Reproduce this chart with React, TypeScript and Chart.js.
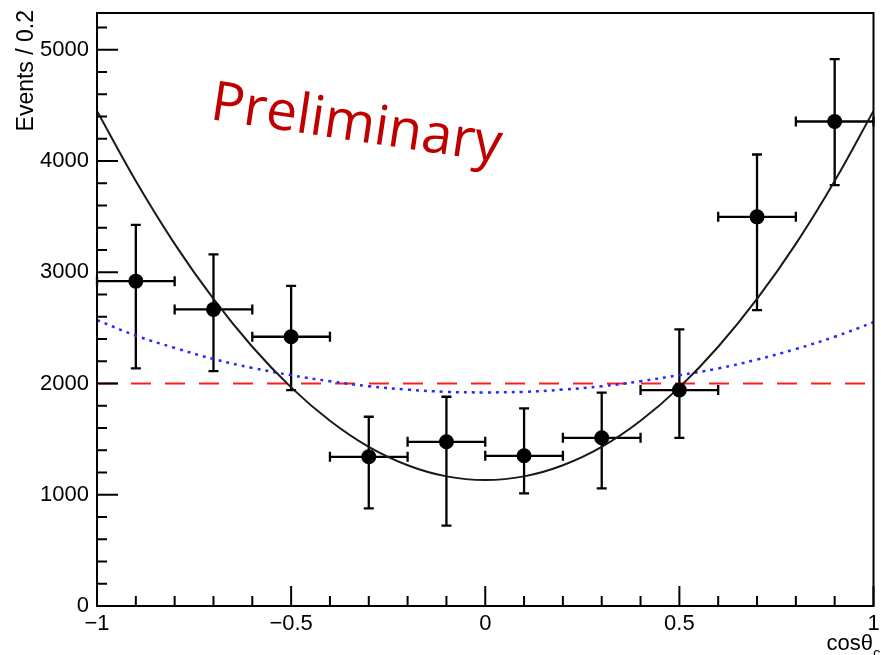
import React, { useEffect, useRef } from "react";
import { Chart, registerables } from "chart.js";

Chart.register(...registerables);

// ---- data ----
const binCenters = [-0.9, -0.7, -0.5, -0.3, -0.1, 0.1, 0.3, 0.5, 0.7, 0.9];
const binHalfWidths = [0.1, 0.1, 0.1, 0.1, 0.1, 0.1, 0.1, 0.1, 0.1, 0.1];
const events = [2920, 2666, 2420, 1341, 1476, 1350, 1512, 1941, 3498, 4355];
const eventsLow = [2136, 2111, 1941, 878, 722, 1013, 1057, 1512, 2660, 3783];
const eventsHigh = [3426, 3160, 2878, 1701, 1881, 1776, 1917, 2486, 4058, 4915];

const curveX = [-1, -0.9, -0.8, -0.7, -0.6, -0.5, -0.4, -0.3, -0.2, -0.1, 0, 0.1, 0.2, 0.3, 0.4, 0.5, 0.6, 0.7, 0.8, 0.9, 1];
const fitTotal = [4450, 3820, 3255, 2760, 2330, 1965, 1665, 1430, 1265, 1165, 1132, 1165, 1265, 1430, 1665, 1965, 2330, 2760, 3255, 3820, 4450];
const fitDotted = [2570, 2430, 2320, 2220, 2140, 2075, 2020, 1975, 1945, 1925, 1920, 1925, 1945, 1975, 2020, 2075, 2135, 2215, 2310, 2420, 2550];
const flatX = [-1, 1];
const flatY = [2000, 2000];

const xTickValues = [-1, -0.5, 0, 0.5, 1];
const yTickValues = [0, 1000, 2000, 3000, 4000, 5000];
const xRange = [-1, 1];
const yRange = [0, 5330];

const yTitle = "Events / 0.2";
const xTitle = "cosθ";
const xTitleSub = "c";
const watermark = "Preliminary";

const fmt = (v: number) => (v < 0 ? "\u2212" + Math.abs(v) : String(v));

const rootPlugin = {
  id: "rootStyle",
  beforeDatasetsDraw(chart: any) {
    const ctx = chart.ctx;
    const xs = chart.scales.x;
    const ys = chart.scales.y;
    ctx.save();
    ctx.strokeStyle = "#000";
    ctx.lineWidth = 2.3;
    const cap = 5;
    for (let i = 0; i < binCenters.length; i++) {
      const cx = xs.getPixelForValue(binCenters[i]);
      const cy = ys.getPixelForValue(events[i]);
      const xl = xs.getPixelForValue(binCenters[i] - binHalfWidths[i]);
      const xr = xs.getPixelForValue(binCenters[i] + binHalfWidths[i]);
      const yl = ys.getPixelForValue(eventsLow[i]);
      const yh = ys.getPixelForValue(eventsHigh[i]);
      ctx.beginPath();
      ctx.moveTo(xl, cy); ctx.lineTo(xr, cy);
      ctx.moveTo(cx, yl); ctx.lineTo(cx, yh);
      ctx.moveTo(xl, cy - cap); ctx.lineTo(xl, cy + cap);
      ctx.moveTo(xr, cy - cap); ctx.lineTo(xr, cy + cap);
      ctx.moveTo(cx - cap, yl); ctx.lineTo(cx + cap, yl);
      ctx.moveTo(cx - cap, yh); ctx.lineTo(cx + cap, yh);
      ctx.stroke();
    }
    ctx.restore();
  },
  afterDraw(chart: any) {
    const ctx = chart.ctx;
    const a = chart.chartArea;
    const xs = chart.scales.x;
    const ys = chart.scales.y;
    ctx.save();
    // frame
    ctx.strokeStyle = "#000";
    ctx.lineWidth = 2;
    ctx.strokeRect(a.left, a.top, a.right - a.left, a.bottom - a.top);
    // x ticks (inward, from bottom)
    ctx.beginPath();
    for (let k = 0; k <= 20; k++) {
      const v = xRange[0] + k * 0.1;
      const px = xs.getPixelForValue(v);
      const len = k % 5 === 0 ? 20 : 10;
      ctx.moveTo(px, a.bottom);
      ctx.lineTo(px, a.bottom - len);
    }
    // y ticks (inward, from left)
    for (let k = 0; k * 200 <= yRange[1]; k++) {
      const v = k * 200;
      const py = ys.getPixelForValue(v);
      const len = k % 5 === 0 ? 21 : 10;
      ctx.moveTo(a.left, py);
      ctx.lineTo(a.left + len, py);
    }
    ctx.stroke();

    // axis titles
    ctx.fillStyle = "#000";
    ctx.font = '23px "Liberation Sans", Arial, sans-serif';
    ctx.textBaseline = "alphabetic";
    ctx.save();
    ctx.translate(33, 10);
    ctx.rotate(-Math.PI / 2);
    ctx.textAlign = "right";
    ctx.fillText(yTitle, 0, 0);
    ctx.restore();

    ctx.font = '22px "Liberation Sans", Arial, sans-serif';
    ctx.textAlign = "right";
    ctx.fillText(xTitle, 873, 650);
    ctx.font = '15px "Liberation Sans", Arial, sans-serif';
    ctx.textAlign = "left";
    ctx.fillText(xTitleSub, 873, 658);

    // watermark
    ctx.save();
    ctx.translate(209, 119);
    ctx.rotate((8.5 * Math.PI) / 180);
    ctx.fillStyle = "#C00000";
    ctx.font = '55px "Open Sans", sans-serif';
    ctx.textAlign = "left";
    ctx.fillText(watermark, 0, 0);
    ctx.restore();

    ctx.restore();
  },
};

export default function App() {
  const ref = useRef<HTMLCanvasElement | null>(null);
  useEffect(() => {
    if (!ref.current) return;
    const chart = new Chart(ref.current, {
      type: "scatter",
      data: {
        datasets: [
          {
            label: "data",
            data: binCenters.map((x, i) => ({ x, y: events[i] })),
            pointRadius: 7.5,
            pointHoverRadius: 7.5,
            pointBackgroundColor: "#000",
            pointBorderWidth: 0,
            showLine: false,
          },
          {
            label: "fit",
            data: curveX.map((x, i) => ({ x, y: fitTotal[i] })),
            showLine: true,
            pointRadius: 0,
            borderColor: "#1a1a1a",
            borderWidth: 2,
            tension: 0.4,
          },
          {
            label: "component",
            data: curveX.map((x, i) => ({ x, y: fitDotted[i] })),
            showLine: true,
            pointRadius: 0,
            borderColor: "rgb(40,40,255)",
            borderWidth: 2.5,
            borderDash: [3, 5],
            tension: 0.4,
          },
          {
            label: "flat",
            data: flatX.map((x, i) => ({ x, y: flatY[i] })),
            showLine: true,
            pointRadius: 0,
            borderColor: "rgb(255,30,30)",
            borderWidth: 2,
            borderDash: [20, 14],
          },
        ],
      },
      options: {
        responsive: false,
        animation: false,
        devicePixelRatio: 1,
        layout: { padding: { top: 13, right: 3, left: 0, bottom: 0 } },
        plugins: { legend: { display: false }, tooltip: { enabled: false } },
        events: [],
        scales: {
          x: {
            type: "linear",
            min: xRange[0],
            max: xRange[1],
            afterBuildTicks: (s: any) => {
              s.ticks = xTickValues.map((v) => ({ value: v }));
            },
            ticks: {
              callback: (v: any) => fmt(Number(v)),
              font: { size: 22, family: '"Liberation Sans", Arial, sans-serif' },
              color: "#000",
              padding: 5,
              maxRotation: 0,
              autoSkip: false,
            },
            grid: { display: false, drawTicks: false },
            border: { display: false },
            afterFit: (s: any) => {
              s.height = 49;
              s.paddingLeft = 0;
              s.paddingRight = 0;
            },
          },
          y: {
            type: "linear",
            min: yRange[0],
            max: yRange[1],
            afterBuildTicks: (s: any) => {
              s.ticks = yTickValues.map((v) => ({ value: v }));
            },
            ticks: {
              callback: (v: any) => String(v),
              font: { size: 22, family: '"Liberation Sans", Arial, sans-serif' },
              color: "#000",
              padding: 8,
              autoSkip: false,
            },
            grid: { display: false, drawTicks: false },
            border: { display: false },
            afterFit: (s: any) => {
              s.width = 97;
              s.paddingTop = 0;
              s.paddingBottom = 0;
            },
          },
        },
      },
      plugins: [rootPlugin],
    } as any);
    return () => chart.destroy();
  }, []);
  return (
    <div style={{ position: "absolute", left: 0, top: 0, width: 881, height: 655, background: "#fff" }}>
      <canvas ref={ref} width={881} height={655} style={{ display: "block" }} />
    </div>
  );
}
